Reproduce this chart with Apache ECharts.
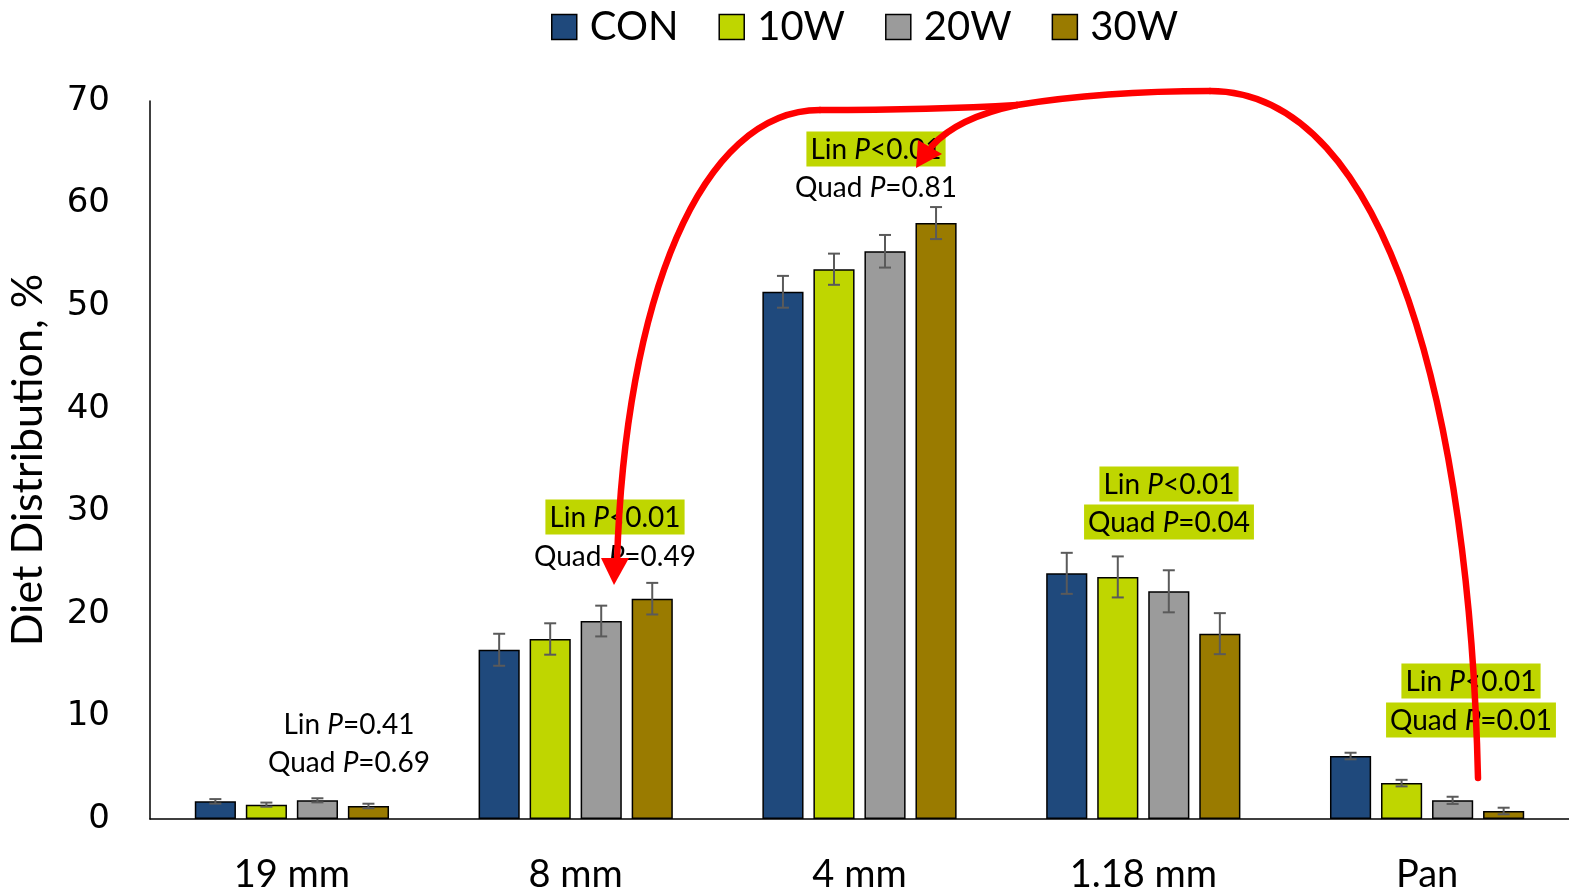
<!DOCTYPE html>
<html><head><meta charset="utf-8">
<script src="https://cdn.jsdelivr.net/npm/echarts@6/dist/echarts.min.js"></script>
<style>html,body{margin:0;padding:0;background:#fff}#c{width:1569px;height:893px}</style>
</head><body><div id="c"></div>
<script>
// ---- data ----
const categories = ['19 mm', '8 mm', '4 mm', '1.18 mm', 'Pan'];
const seriesNames = ['CON', '10W', '20W', '30W'];
const conValues = [1.72, 16.5, 51.4, 23.95, 6.14];
const w10Values = [1.40, 17.55, 53.6, 23.6, 3.5];
const w20Values = [1.82, 19.3, 55.35, 22.2, 1.82];
const w30Values = [1.27, 21.48, 58.1, 18.07, 0.78];
const conErr = [0.22, 1.56, 1.55, 2.0, 0.32];
const w10Err = [0.20, 1.53, 1.52, 2.0, 0.32];
const w20Err = [0.20, 1.50, 1.59, 2.05, 0.35];
const w30Err = [0.22, 1.54, 1.56, 2.0, 0.32];
const yMin = 0, yMax = 70, yStep = 10;
// annotation texts: [before P, after P, highlighted]
const linTexts = [['Lin ', '=0.41', false], ['Lin ', '<0.01', true], ['Lin ', '<0.01', true], ['Lin ', '<0.01', true], ['Lin ', '<0.01', true]];
const quadTexts = [['Quad ', '=0.69', false], ['Quad ', '=0.49', false], ['Quad ', '=0.81', false], ['Quad ', '=0.04', true], ['Quad ', '=0.01', true]];

// ---- styles / layout ----
const colors = ['#1F497C', '#BFD600', '#9B9B9B', '#9A7B00'];
const HL = '#BFD600';
const BAR_W = 0.145, BAR_GAP = 0.24;
const FONT = 'Lato';
const annoPos = [ // pixel anchor of each annotation block (x center, y of Lin line, y of Quad line)
  [349, 724, 762], [615, 517, 556], [876, 149, 187], [1169, 484, 522], [1471, 681, 720]
];
const valuesList = [conValues, w10Values, w20Values, w30Values];
const errList = [conErr, w10Err, w20Err, w30Err];

const chart = echarts.init(document.getElementById('c'), null, {renderer: 'canvas'});

const barSeries = seriesNames.map((n, i) => ({
  name: n, type: 'bar', data: valuesList[i],
  barWidth: (BAR_W * 100) + '%', barGap: (BAR_GAP * 100) + '%',
  itemStyle: {color: colors[i], borderColor: '#000', borderWidth: 1.5},
  emphasis: {disabled: true}, z: 2
}));

const errSeries = seriesNames.map((n, idx) => ({
  type: 'custom', silent: true, z: 5,
  data: valuesList[idx].map((v, i) => [i, v, errList[idx][i]]),
  encode: {x: 0, y: 1},
  renderItem(params, api) {
    const ci = api.value(0), v = api.value(1), e = api.value(2);
    const bw = api.size([1, 0])[0];
    const w = bw * BAR_W, g = w * BAR_GAP;
    const total = 4 * w + 3 * g;
    const off = -total / 2 + w / 2 + idx * (w + g);
    const top = api.coord([ci, v + e]);
    const bot = api.coord([ci, v - e]);
    const x = top[0] + off;
    const cap = 6;
    const st = {stroke: '#5A5A5A', lineWidth: 2};
    return {type: 'group', children: [
      {type: 'line', shape: {x1: x, y1: top[1], x2: x, y2: bot[1]}, style: st},
      {type: 'line', shape: {x1: x - cap, y1: top[1], x2: x + cap, y2: top[1]}, style: st},
      {type: 'line', shape: {x1: x - cap, y1: bot[1], x2: x + cap, y2: bot[1]}, style: st}
    ]};
  }
}));

function annoText(t, x, y) {
  return {
    type: 'text', x: x, y: y, z: 50,
    style: {
      text: '{n|' + t[0] + '}{i|P}{n|' + t[1] + '}',
      rich: {
        n: {fontSize: 28, fontFamily: FONT, fill: '#000'},
        i: {fontSize: 28, fontFamily: FONT, fontStyle: 'italic', fill: '#000'}
      },
      align: 'center', verticalAlign: 'middle',
      backgroundColor: t[2] ? HL : 'transparent',
      padding: [4, 4, 3, 4]
    }
  };
}
const graphics = [];
annoPos.forEach((p, i) => {
  graphics.push(annoText(linTexts[i], p[0], p[1]));
  graphics.push(annoText(quadTexts[i], p[0], p[2]));
});
// red arrows (annotation drawing)
const red = {stroke: '#FF0000', lineWidth: 6.5, fill: null, lineCap: 'round'};
const curves = [
  [1478, 778, 1210, 91, 1470, 420, 1390, 91],
  [1210, 91, 1017, 105, 1120, 91, 1060, 98],
  [1017, 105, 932, 146, 975, 114, 948, 128],
  [1017, 105, 820, 110, 950, 109, 880, 110],
  [820, 110, 617, 562, 700, 110, 625, 300]
];
curves.forEach(c => graphics.push({
  type: 'bezierCurve', z: 60, silent: true,
  shape: {x1: c[0], y1: c[1], x2: c[2], y2: c[3], cpx1: c[4], cpy1: c[5], cpx2: c[6], cpy2: c[7]},
  style: red
}));
graphics.push({type: 'polygon', z: 61, silent: true, shape: {points: [[916, 168], [918, 140], [942, 154]]}, style: {fill: '#FF0000'}});
graphics.push({type: 'polygon', z: 61, silent: true, shape: {points: [[614, 585], [601, 558], [629, 558]]}, style: {fill: '#FF0000'}});

chart.setOption({
  animation: false,
  backgroundColor: '#fff',
  legend: {
    data: seriesNames, left: 546, top: 2, icon: 'rect', itemWidth: 25, itemHeight: 25, itemGap: 40,
    itemStyle: {borderColor: '#000', borderWidth: 1.5},
    textStyle: {fontSize: 40, fontFamily: FONT, color: '#000', padding: [0, 0, 0, 8]},
    selectedMode: false
  },
  grid: {left: 150, right: 0, top: 101, bottom: 74, containLabel: false, outerBoundsMode: 'none'},
  xAxis: {
    type: 'category', data: categories,
    axisLine: {lineStyle: {color: '#000', width: 1.5}},
    axisTick: {show: false},
    axisLabel: {fontSize: 38, fontFamily: FONT, color: '#000', margin: 37}
  },
  yAxis: {
    type: 'value', min: yMin, max: yMax, interval: yStep,
    name: 'Diet Distribution, %', nameLocation: 'middle', nameGap: 100,
    nameTextStyle: {fontSize: 43, fontFamily: FONT, color: '#000'},
    axisLine: {show: true, lineStyle: {color: '#000', width: 1.5}},
    axisTick: {show: false},
    splitLine: {show: false},
    axisLabel: {fontSize: 34, fontFamily: 'DejaVu Sans', color: '#000', margin: 40}
  },
  series: barSeries.concat(errSeries),
  graphic: graphics
});
</script></body></html>
